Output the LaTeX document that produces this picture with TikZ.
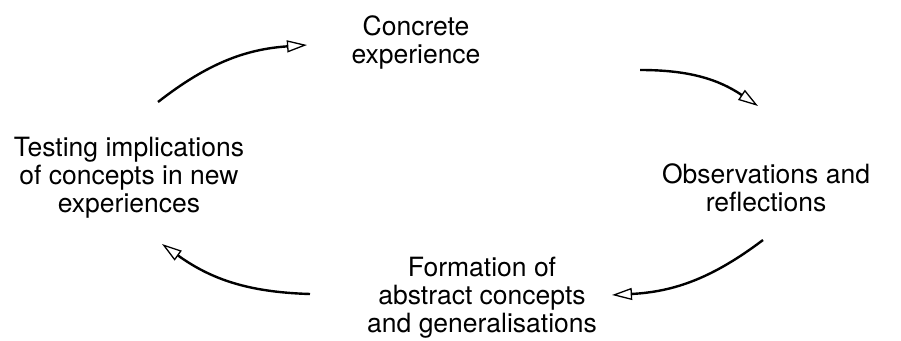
\documentclass[tikz,border=0pt]{standalone}
\usepackage{fontspec}
\setmainfont{TeX Gyre Heros}
\usepackage{tikz}
\usetikzlibrary{arrows.meta, positioning}

\begin{document}
\begin{tikzpicture}[x=1pt, y=1pt,
        stage/.style={align=center, font=\fontsize{26.5}{28}\selectfont, inner sep=0pt},
        cycle/.style={-{Triangle[open, length=20pt, width=12pt, line width=1.3pt]}, line width=2.4pt, bend left=17}]
                    \useasboundingbox (0,0) rectangle (901,340);
                    \node[stage] (ce) at (416,298) {Concrete\\experience};
                    \node[stage] (or) at (766,152) {Observations and\\reflections};
                    \node[stage] (fa) at (482,42) {Formation of\\abstract concepts\\and generalisations};
                    \node[stage] (ti) at (129,162) {Testing implications\\of concepts in new\\experiences};
                    \coordinate (A) at (158,238);
                    \coordinate (B) at (307,295);
                    \coordinate (C) at (640,270);
                    \coordinate (D) at (758,234);
                    \coordinate (E) at (763,100);
                    \coordinate (F) at (612,45);
                    \coordinate (G) at (310,46);
                    \coordinate (H) at (162,96);
                    \draw[cycle] (A) to (B);
                    \draw[cycle] (C) to (D);
                    \draw[cycle] (E) to (F);
                    \draw[cycle] (G) to (H);
                \end{tikzpicture}
\end{document}
